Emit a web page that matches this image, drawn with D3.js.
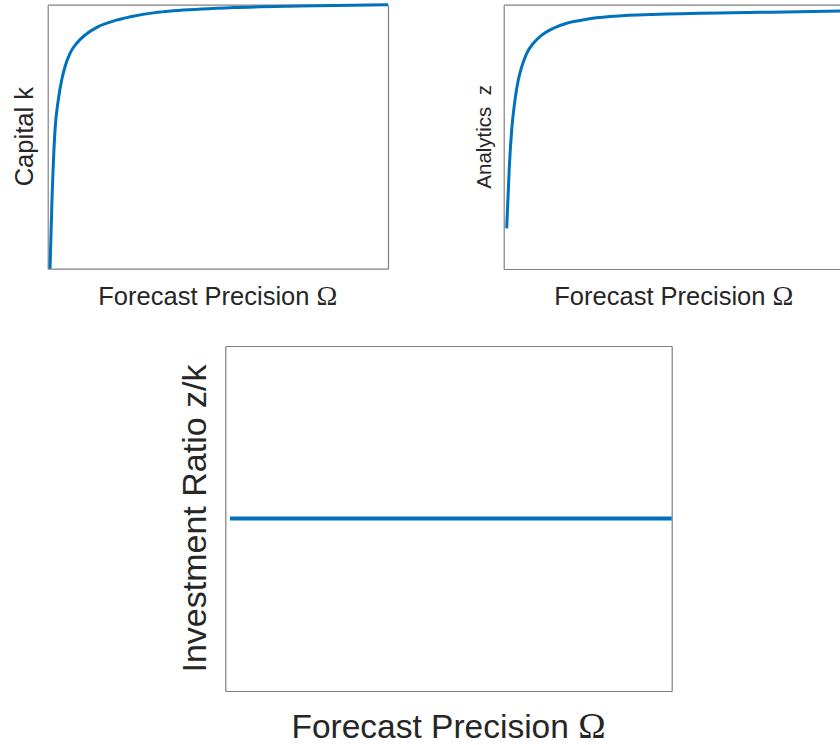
<!DOCTYPE html>
<html>
<head>
<meta charset="utf-8">
<script src="https://cdn.jsdelivr.net/npm/d3@7"></script>
<style>
  body { margin: 0; background: #fff; }
  svg { display: block; }
</style>
</head>
<body>
<svg id="chart" width="840" height="745"></svg>
<script>
/*
** Data (axes have no ticks, so units are 0..1)
 */

var capitalOmega = [0.0068, 0.0126, 0.0215, 0.0311, 0.0411, 0.0508, 0.0655, 0.0852, 0.1096, 0.1487, 0.1881, 0.2468, 0.3153, 0.3691, 0.5445, 0.7414, 1.0];
var capitalK     = [0.0, 0.26, 0.525, 0.639, 0.715, 0.765, 0.816, 0.854, 0.885, 0.917, 0.936, 0.955, 0.970, 0.977, 0.989, 0.995, 1.0];

var analyticsOmega = [0.0088, 0.0165, 0.0235, 0.0332, 0.0429, 0.0529, 0.0676, 0.087, 0.1117, 0.1458, 0.1851, 0.2439, 0.3124, 0.3661, 0.4593, 0.7532, 1.0];
var analyticsZ     = [0.154, 0.386, 0.526, 0.640, 0.715, 0.765, 0.816, 0.854, 0.885, 0.911, 0.930, 0.945, 0.955, 0.960, 0.964, 0.971, 0.976];

var ratioOmega = [0.0105, 1.0];
var ratioZK    = [0.5, 0.5];

var xLabel = 'Forecast Precision ';
var omegaSymbol = '\u03A9';

var lineColor = '#0072BD';
var textColor = '#262626';
var boxColor = '#7f7f7f';

var svg = d3.select('#chart');

// one panel = box + curve + labels
function drawPanel(opts) {
    var x = d3.scaleLinear().domain([0, 1]).range([opts.left, opts.right]);
    var y = d3.scaleLinear().domain([0, 1]).range([opts.bottom, opts.top]);
    var g = svg.append('g');

    // box made from four tickless axes
    var axes = [
        [d3.axisBottom(x), 'translate(0,' + opts.bottom + ')'],
        [d3.axisTop(x), 'translate(0,' + opts.top + ')'],
        [d3.axisLeft(y), 'translate(' + opts.left + ',0)'],
        [d3.axisRight(y), 'translate(' + opts.right + ',0)']
    ];
    axes.forEach(function (a) {
        var ax = g.append('g')
            .attr('transform', a[1])
            .call(a[0].tickValues([]).tickSizeOuter(0));
        ax.select('.domain')
            .attr('stroke', boxColor)
            .attr('stroke-width', 1.2);
    });

    var pts = opts.xs.map(function (v, i) { return [v, opts.ys[i]]; });
    var line = d3.line()
        .x(function (d) { return x(d[0]); })
        .y(function (d) { return y(d[1]); })
        .curve(d3.curveMonotoneX);

    g.append('path')
        .datum(pts)
        .attr('d', line)
        .attr('fill', 'none')
        .attr('stroke', lineColor)
        .attr('stroke-width', opts.lineWidth);

    // x label, omega in a serif face like the original
    var xl = g.append('text')
        .attr('x', (opts.left + opts.right) / 2)
        .attr('y', opts.xLabelY)
        .attr('text-anchor', 'middle')
        .attr('fill', textColor)
        .style('font-family', 'Liberation Sans, Arial, sans-serif')
        .style('font-size', opts.xFont + 'px');
    xl.append('tspan').text(xLabel);
    xl.append('tspan')
        .style('font-family', 'Liberation Serif, Times New Roman, serif')
        .style('font-size', (opts.xFont * 1.1) + 'px')
        .text(omegaSymbol);

    // y label
    var cy = (opts.top + opts.bottom) / 2;
    g.append('text')
        .attr('transform', 'translate(' + opts.yLabelX + ',' + cy + ') rotate(-90)')
        .attr('text-anchor', 'middle')
        .attr('fill', textColor)
        .style('font-family', 'Liberation Sans, Arial, sans-serif')
        .style('font-size', opts.yFont + 'px')
        .style('white-space', 'pre')
        .text(opts.yLabel);
}

drawPanel({
    left: 47.7, right: 388, top: 4.7, bottom: 268.7,
    xs: capitalOmega, ys: capitalK, lineWidth: 3,
    xLabelY: 305, xFont: 25.5,
    yLabel: 'Capital k', yLabelX: 33, yFont: 25.5
});

drawPanel({
    left: 503.7, right: 844, top: 4.7, bottom: 269,
    xs: analyticsOmega, ys: analyticsZ, lineWidth: 3,
    xLabelY: 305, xFont: 25.5,
    yLabel: 'Analytics  z', yLabelX: 491, yFont: 20.5
});

drawPanel({
    left: 225.3, right: 671.7, top: 346, bottom: 691,
    xs: ratioOmega, ys: ratioZK, lineWidth: 4,
    xLabelY: 738.3, xFont: 33.5,
    yLabel: 'Investment Ratio z/k', yLabelX: 206, yFont: 34
});
</script>
</body>
</html>
